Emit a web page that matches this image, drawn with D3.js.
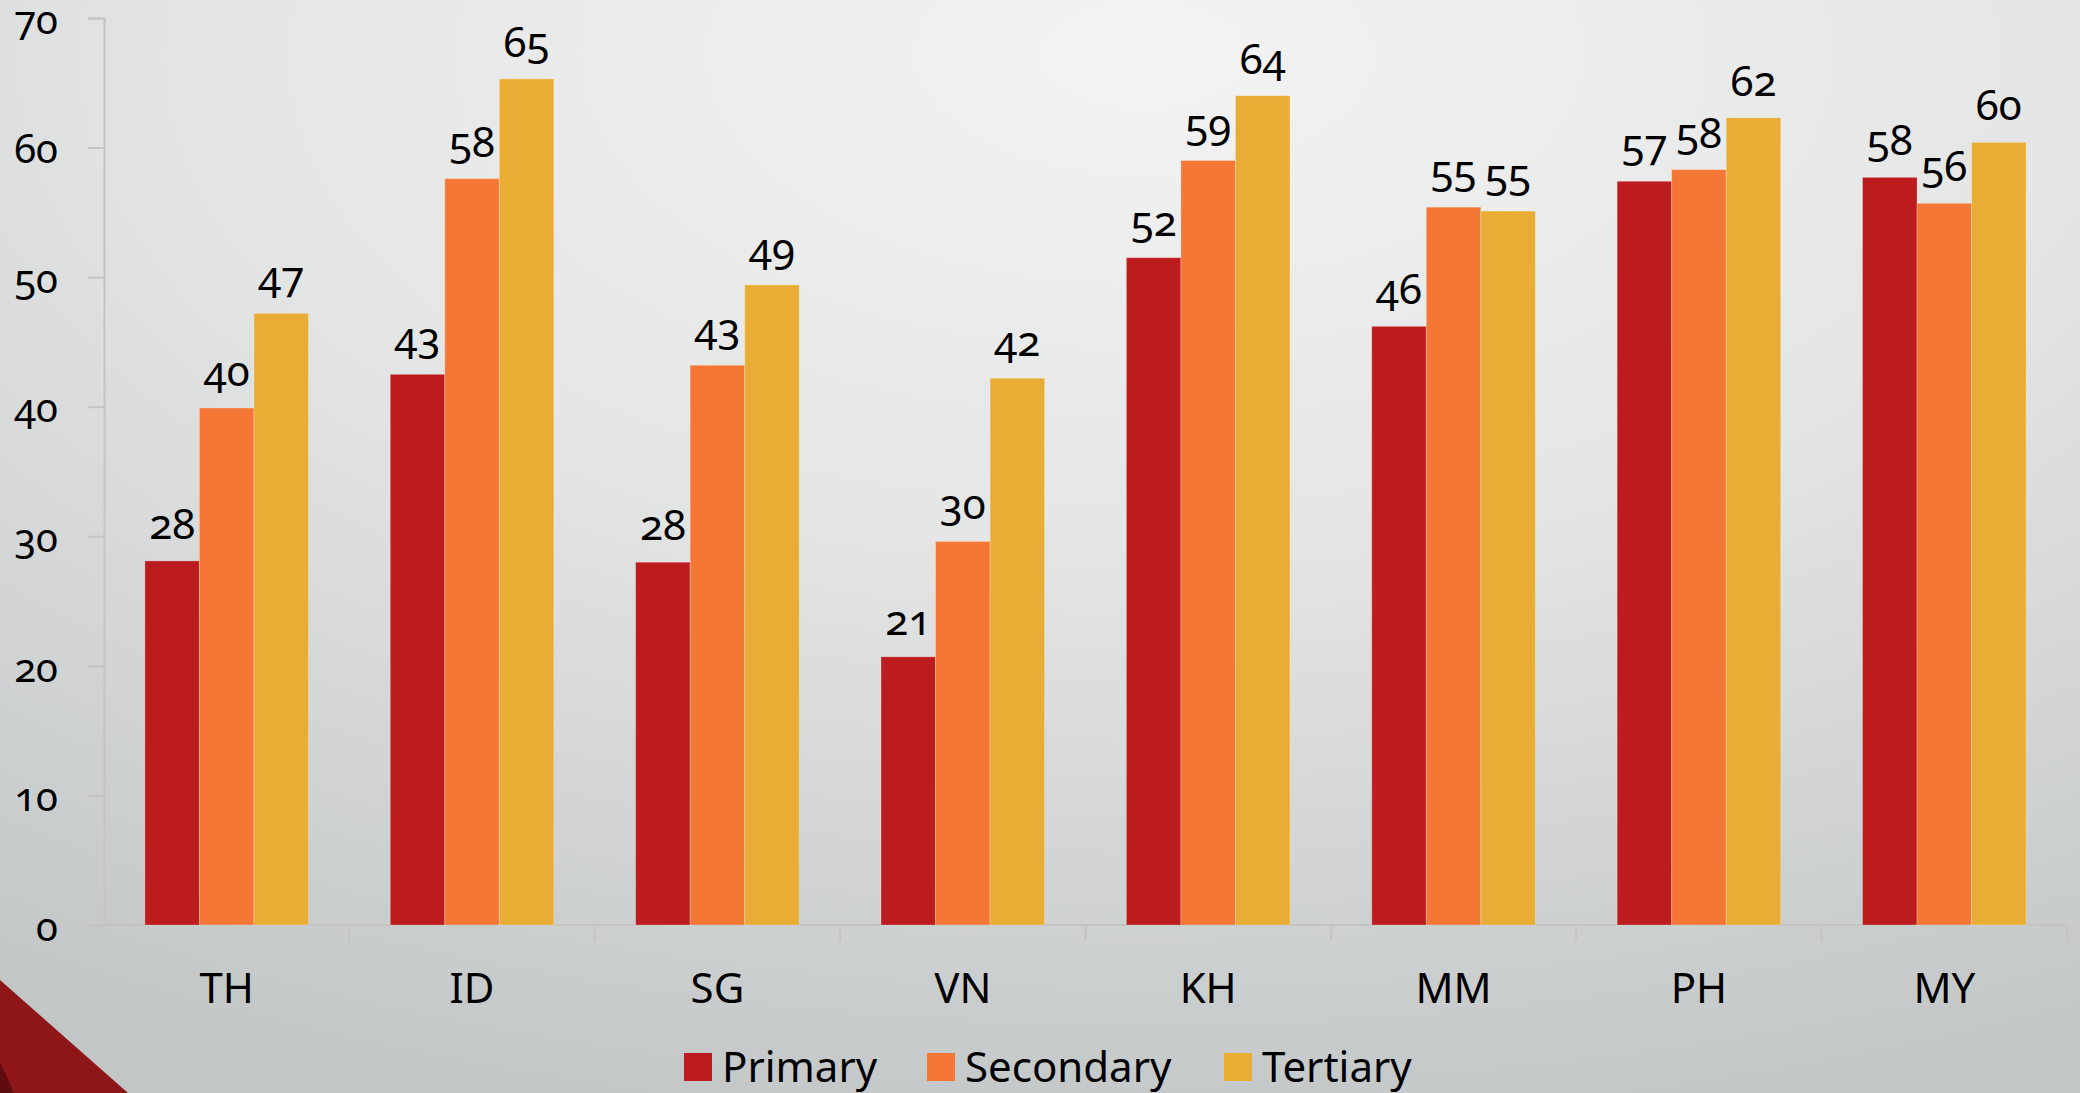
<!DOCTYPE html>
<html>
<head>
<meta charset="utf-8">
<script src="https://cdn.jsdelivr.net/npm/d3@7"></script>
<style>
    body { margin: 0; overflow: hidden; }
    text { font-family: "Noto Sans", "Open Sans", sans-serif; font-variant-numeric: oldstyle-nums; }
</style>
</head>
<body>
<script>
// categories and series
var countries = ["TH", "ID", "SG", "VN", "KH", "MM", "PH", "MY"];
var seriesNames = ["Primary", "Secondary", "Tertiary"];
var primary = [28.1, 42.5, 28.0, 20.7, 51.5, 46.2, 57.4, 57.7];
var secondary = [39.9, 57.6, 43.2, 29.6, 59.0, 55.4, 58.3, 55.7];
var tertiary = [47.2, 65.3, 49.4, 42.2, 64.0, 55.1, 62.3, 60.4];
var yTicks = [0, 10, 20, 30, 40, 50, 60, 70];
var colors = ["#bd1c1e", "#f57735", "#e9ad36"];

window.onload = function () {
    var svg_width = 2080;
    var svg_height = 1093;
    var series = [primary, secondary, tertiary];

    var svg = d3.select("body")
        .append("svg")
        .attr("width", svg_width)
        .attr("height", svg_height);

    // background
    var defs = svg.append("defs");
    var grad = defs.append("radialGradient")
        .attr("id", "bg")
        .attr("cx", "0.55").attr("cy", "0.05")
        .attr("r", "1.0");
    grad.append("stop").attr("offset", "0").attr("stop-color", "#f3f3f3");
    grad.append("stop").attr("offset", "0.45").attr("stop-color", "#e4e5e5");
    grad.append("stop").attr("offset", "1").attr("stop-color", "#c2c6c7");
    svg.append("rect")
        .attr("width", svg_width).attr("height", svg_height)
        .attr("fill", "url(#bg)");

    // red corner decoration
    svg.append("path")
        .attr("d", "M0,980 L128,1093 L0,1093 Z")
        .attr("fill", "#8e1518");
    svg.append("path")
        .attr("d", "M0,1062 L14,1093 L0,1093 Z")
        .attr("fill", "#5e0c0e");

    var left = 104, right = 2067, top = 18, bottom = 925;

    var x = d3.scaleBand().domain(countries).range([left, right]).padding(0);
    var y = d3.scaleLinear().domain([0, 70]).range([bottom, top]);
    var barW = x.bandwidth() / 4.5;
    var inner = d3.scaleBand().domain(seriesNames)
        .range([(x.bandwidth() - 3 * barW) / 2, (x.bandwidth() + 3 * barW) / 2]);

    // y axis
    var yAxis = d3.axisLeft(y).tickValues(yTicks).tickSize(16).tickPadding(30);
    var gy = svg.append("g").attr("transform", "translate(" + left + ",0)").call(yAxis);
    gy.select(".domain").attr("stroke", "#c4c4c4").attr("stroke-width", 2);
    gy.selectAll(".tick line").attr("stroke", "#c4c4c4").attr("stroke-width", 2);
    gy.selectAll(".tick text")
        .attr("fill", "#000")
        .style("font-size", "40px")
        .attr("dy", "0.38em");

    // x axis with boundary ticks
    var gx = svg.append("g");
    gx.append("line")
        .attr("x1", left).attr("x2", right)
        .attr("y1", bottom).attr("y2", bottom)
        .attr("stroke", "#c4c4c4").attr("stroke-width", 2);
    var bounds = countries.map(function (c) { return x(c) + x.bandwidth(); });
    gx.selectAll(".bt").data(bounds).enter().append("line")
        .attr("x1", function (d) { return d; }).attr("x2", function (d) { return d; })
        .attr("y1", bottom).attr("y2", bottom + 16)
        .attr("stroke", "#c4c4c4").attr("stroke-width", 2);
    gx.selectAll(".cat").data(countries).enter().append("text")
        .attr("x", function (d) { return x(d) + x.bandwidth() / 2; })
        .attr("y", 1003)
        .attr("text-anchor", "middle")
        .style("font-size", "42px")
        .text(function (d) { return d; });

    // bars
    var groups = svg.selectAll(".grp").data(countries).enter().append("g")
        .attr("transform", function (d) { return "translate(" + x(d) + ",0)"; });
    groups.each(function (c, ci) {
        var g = d3.select(this);
        var rows = seriesNames.map(function (s, si) {
            return { s: s, si: si, v: series[si][ci] };
        });
        g.selectAll("rect").data(rows).enter().append("rect")
            .attr("x", function (d) { return inner(d.s); })
            .attr("width", barW)
            .attr("y", function (d) { return y(d.v); })
            .attr("height", function (d) { return bottom - y(d.v); })
            .attr("fill", function (d) { return colors[d.si]; })
            .attr("stroke", "rgba(255,255,255,0.25)")
            .attr("stroke-width", 1);
        g.selectAll("text").data(rows).enter().append("text")
            .attr("x", function (d) { return inner(d.s) + barW / 2; })
            .attr("y", function (d) { return y(d.v) - 22; })
            .attr("text-anchor", "middle")
            .style("font-size", "42px")
            .text(function (d) { return Math.round(d.v); });
    });

    // legend
    var legX = [684, 927, 1224];
    var leg = svg.selectAll(".leg").data(seriesNames).enter().append("g")
        .attr("transform", function (d, i) { return "translate(" + legX[i] + ",1053)"; });
    leg.append("rect").attr("width", 28).attr("height", 28)
        .attr("fill", function (d, i) { return colors[i]; });
    leg.append("text").attr("x", 38).attr("y", 29)
        .style("font-size", "42px")
        .text(function (d) { return d; });
};
</script>
</body>
</html>
